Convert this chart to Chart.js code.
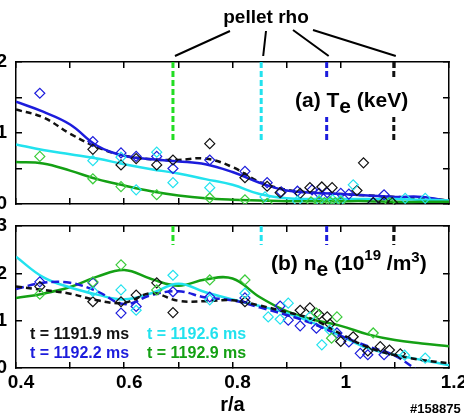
<!DOCTYPE html>
<html>
<head>
<meta charset="utf-8">
<script src="https://cdn.jsdelivr.net/npm/chart.js@4.4.0/dist/chart.umd.min.js"></script>
<style>
  html, body { margin: 0; padding: 0; background: #fff; }
  #wrap { position: relative; width: 464px; height: 414px; overflow: hidden; }
  #wrap canvas { position: absolute; left: 0; top: 0; }
</style>
</head>
<body>
<div id="wrap">
  <canvas id="teChart" width="464" height="414"></canvas>
  <canvas id="neChart" width="464" height="414"></canvas>
</div>
<script>
// r/a grid of the profile fits
const fitR = [0.40, 0.45, 0.50, 0.55, 0.60, 0.65, 0.70, 0.75, 0.80, 0.85, 0.90, 0.95, 1.00, 1.05, 1.10, 1.15, 1.20];

// (a) Te fits, keV
const teFit1191_9 = [1.33, 1.22, 0.99, 0.80, 0.68, 0.63, 0.62, 0.64, 0.52, 0.31, 0.20, 0.16, 0.14, 0.12, 0.10, 0.08, 0.05];
const teFit1192_2 = [1.44, 1.30, 1.12, 0.82, 0.68, 0.63, 0.60, 0.56, 0.45, 0.30, 0.19, 0.16, 0.14, 0.12, 0.10, 0.10, 0.04];
const teFit1192_6 = [0.84, 0.76, 0.70, 0.64, 0.56, 0.49, 0.43, 0.35, 0.27, 0.14, 0.08, 0.07, 0.07, 0.07, 0.07, 0.06, 0.05];
const teFit1192_9 = [0.59, 0.57, 0.47, 0.35, 0.26, 0.18, 0.12, 0.08, 0.06, 0.05, 0.04, 0.04, 0.04, 0.04, 0.03, 0.03, 0.03];

// (b) ne fits, 10^19 /m3
const neFit1191_9 = [1.72, 1.65, 1.57, 1.43, 1.38, 1.58, 1.42, 1.41, 1.43, 1.32, 1.18, 1.02, 0.72, 0.44, 0.27, 0.17, 0.10];
const neFit1192_2 = [1.67, 1.80, 1.80, 1.62, 1.35, 1.54, 1.62, 1.49, 1.43, 1.28, 1.12, 0.93, 0.68, 0.46, 0.26, -0.12, -0.50];
const neFit1192_6 = [2.35, 1.92, 1.70, 1.55, 1.45, 1.58, 1.78, 1.60, 1.45, 1.31, 1.16, 0.95, 0.68, 0.42, 0.28, 0.17, 0.06];
const neFit1192_9 = [1.48, 1.57, 1.71, 1.93, 2.07, 1.88, 1.74, 1.87, 1.89, 1.50, 1.20, 1.02, 0.89, 0.71, 0.59, 0.52, 0.46];

// (a) Te measurements
const teR1191_9 = [0.542, 0.594, 0.622, 0.66, 0.69, 0.758, 0.823, 0.864, 0.888, 0.925, 0.943, 0.965, 0.984, 1.03, 1.042, 1.06, 1.08, 1.095];
const teV1191_9 = [0.77, 0.55, 0.64, 0.55, 0.62, 0.85, 0.37, 0.25, 0.16, 0.15, 0.23, 0.24, 0.23, 0.19, 0.58, 0.02, 0.03, 0.02];
const teR1192_2 = [0.444, 0.542, 0.594, 0.622, 0.66, 0.69, 0.758, 0.823, 0.864, 0.89, 0.92, 0.947, 0.96, 0.975, 1.0, 1.015, 1.06, 1.08];
const teV1192_2 = [1.56, 0.88, 0.72, 0.67, 0.67, 0.50, 0.62, 0.46, 0.30, 0.17, 0.18, 0.20, 0.15, 0.16, 0.15, 0.14, 0.02, 0.13];
const teR1192_6 = [0.542, 0.594, 0.622, 0.66, 0.69, 0.758, 0.86, 0.92, 0.96, 0.985, 1.0, 1.023, 1.119, 1.156];
const teV1192_6 = [0.61, 0.66, 0.20, 0.73, 0.30, 0.23, 0.10, 0.04, 0.05, 0.06, 0.05, 0.27, 0.08, 0.08];
const teR1192_9 = [0.444, 0.542, 0.594, 0.66, 0.758, 0.823, 0.864, 0.945, 0.96, 0.97, 0.98, 0.99, 1.0, 1.09];
const teV1192_9 = [0.67, 0.355, 0.245, 0.13, 0.085, 0.06, 0.01, 0.03, 0.03, 0.02, 0.03, 0.02, 0.03, 0.02];

// (b) ne measurements
const neR1191_9 = [0.444, 0.542, 0.594, 0.622, 0.66, 0.69, 0.823, 0.925, 0.943, 0.96, 0.975, 0.98, 1.0, 1.023, 1.05, 1.073, 1.09, 1.11];
const neV1191_9 = [1.72, 1.40, 1.40, 1.54, 1.80, 1.17, 1.40, 1.22, 1.27, 1.13, 1.08, 0.93, 0.56, 0.66, 0.36, 0.45, 0.38, 0.30];
const neR1192_2 = [0.444, 0.542, 0.594, 0.622, 0.69, 0.758, 0.823, 0.888, 0.903, 0.925, 0.955, 0.993, 1.015, 1.036, 1.05, 1.08];
const neV1192_2 = [1.82, 1.80, 1.16, 1.30, 1.61, 1.50, 1.48, 1.31, 1.01, 0.89, 0.84, 0.74, 0.55, 0.31, 0.28, 0.28];
const neR1192_6 = [0.542, 0.594, 0.622, 0.69, 0.758, 0.823, 0.866, 0.888, 0.903, 0.943, 0.965, 0.98, 1.118, 1.156];
const neV1192_6 = [1.62, 1.65, 1.22, 1.96, 1.44, 1.58, 1.08, 1.03, 1.37, 1.08, 0.49, 0.80, 0.27, 0.21];
const neR1192_9 = [0.444, 0.542, 0.594, 0.66, 0.758, 0.823, 0.955, 0.983, 0.993, 1.06];
const neV1192_9 = [1.56, 1.82, 2.18, 1.65, 1.86, 1.86, 1.16, 0.63, 1.08, 0.74];

// pellet positions (green, cyan, blue, black)
const pelletRho = [0.690, 0.853, 0.974, 1.098];
const timeLabels = ['t = 1191.9 ms', 't = 1192.2 ms', 't = 1192.6 ms', 't = 1192.9 ms'];

const BLACK = '#111111', BLUE = '#1c1cdc', CYAN = '#22e2ee', GREEN = '#14a014';
const MARK_GREEN = '#3ccc3c', PELLET_GREEN = '#22dd22';
const FONT = '"Liberation Sans", Arial, sans-serif';

const pts = (xs, ys) => xs.map((x, i) => ({ x: x, y: ys[i] }));

function fitSet(ys, color, dash) {
    return {
        data: pts(fitR, ys), borderColor: color, borderWidth: 2.5,
        borderDash: dash || [], pointRadius: 0, tension: 0.4, fill: false
    };
}

function markSet(xs, ys, color) {
    return {
        data: pts(xs, ys), showLine: false, borderColor: color,
        backgroundColor: 'rgba(0,0,0,0)', pointStyle: 'rectRot',
        pointRadius: 5, pointBorderWidth: 1.2
    };
}

function pelletSet(r, y0, y1, color) {
    return {
        data: [{ x: r, y: y0 }, { x: r, y: y1 }], borderColor: color,
        borderWidth: 3, borderDash: [6, 3], pointRadius: 0
    };
}

function drawRich(ctx, x, y, segs, color) {
    ctx.fillStyle = color;
    ctx.textAlign = 'left';
    ctx.textBaseline = 'alphabetic';
    let cx = x;
    segs.forEach(s => {
        ctx.font = 'bold ' + s[1] + 'px ' + FONT;
        ctx.fillText(s[0], cx, y + s[2]);
        cx += ctx.measureText(s[0]).width;
    });
}

function notesPlugin(notes) {
    return {
        id: 'notes',
        afterDatasetsDraw(chart) {
            const ctx = chart.ctx;
            ctx.save();
            notes(ctx, chart.chartArea, chart.scales.x);
            ctx.restore();
        }
    };
}

// axis frame: every side carries a border and inward tick marks
const frameGrid = { display: true, drawOnChartArea: false, drawTicks: true, tickLength: -6, color: '#000', lineWidth: 1.5 };
const frameBorder = { display: true, color: '#000', width: 1.5 };
const tickFont = { family: FONT, size: 19, weight: 'bold' };

function yAxes(max, step) {
    const base = { min: 0, max: max, grid: frameGrid, border: frameBorder };
    return {
        y: Object.assign({}, base, {
            position: 'left',
            ticks: {
                stepSize: step, padding: 15, color: '#000', font: tickFont,
                callback: v => (Math.abs(v - Math.round(v)) < 1e-6 ? String(Math.round(v)) : '')
            },
            afterFit: s => { s.width = 16; }
        }),
        y2: Object.assign({}, base, {
            position: 'right',
            ticks: { stepSize: step, display: false },
            afterFit: s => { s.width = 0; }
        })
    };
}

function xAxes(showLabels) {
    const base = { type: 'linear', min: 0.4, max: 1.2, grid: frameGrid, border: frameBorder };
    return {
        x: Object.assign({}, base, {
            position: 'bottom',
            ticks: {
                display: showLabels, stepSize: 0.1, autoSkip: false, padding: 9,
                labelOffset: 5, maxRotation: 0, color: '#000', font: tickFont,
                callback: v => { const k = Math.round(v * 10); return k % 2 === 0 ? String(k / 10) : ''; }
            },
            title: {
                display: showLabels, text: 'r/a', color: '#000',
                font: { family: FONT, size: 20, weight: 'bold' },
                padding: { top: 0, bottom: -3 }
            },
            afterFit: s => {
                s.height = showLabels ? 46 : 0;
                // edge labels may run off the frame, as in the original
                s.paddingLeft = 0;
                s.paddingRight = 0;
            }
        }),
        x2: Object.assign({}, base, {
            position: 'top',
            ticks: { stepSize: 0.1, display: false },
            afterFit: s => { s.height = 0; }
        })
    };
}

function baseOptions(pad, yMax, yStep, showX) {
    return {
        responsive: false, animation: false, devicePixelRatio: 1,
        layout: { padding: pad },
        plugins: { legend: { display: false }, tooltip: { enabled: false } },
        scales: Object.assign(xAxes(showX), yAxes(yMax, yStep))
    };
}

// (a) electron temperature
new Chart(document.getElementById('teChart'), {
    type: 'line',
    data: {
        datasets: [
            pelletSet(pelletRho[0], 2, 0.88, PELLET_GREEN),
            pelletSet(pelletRho[1], 2, 0.88, CYAN),
            pelletSet(pelletRho[2], 2, 0.88, BLUE),
            pelletSet(pelletRho[3], 2, 0.88, BLACK),
            markSet(teR1192_9, teV1192_9, MARK_GREEN),
            markSet(teR1192_6, teV1192_6, CYAN),
            markSet(teR1191_9, teV1191_9, BLACK),
            markSet(teR1192_2, teV1192_2, BLUE),
            fitSet(teFit1192_9, GREEN),
            fitSet(teFit1192_6, CYAN),
            fitSet(teFit1192_2, BLUE),
            fitSet(teFit1191_9, BLACK, [6, 4])
        ]
    },
    options: baseOptions({ left: 0, right: 15, top: 62, bottom: 210 }, 2, 0.5, false),
    plugins: [notesPlugin(function (ctx, a, xs) {
        ctx.fillStyle = '#000';
        ctx.font = 'bold 19px ' + FONT;
        ctx.textAlign = 'center';
        ctx.textBaseline = 'alphabetic';
        ctx.fillText('pellet rho', 266, 23);
        const from = [[230, 31], [266, 31], [293, 30], [313, 30]];
        ctx.strokeStyle = '#000';
        ctx.lineWidth = 2;
        ctx.beginPath();
        pelletRho.forEach((r, i) => {
            ctx.moveTo(from[i][0], from[i][1]);
            ctx.lineTo(xs.getPixelForValue(r) + 2, a.top - 6);
        });
        ctx.stroke();
        ctx.fillStyle = '#fff';
        ctx.fillRect(291, 78, 124, 39);
        drawRich(ctx, 295, 107, [['(a) T', 21, 0], ['e', 21, 6], [' (keV)', 21, 0]], '#000');
    })]
});

// (b) electron density
new Chart(document.getElementById('neChart'), {
    type: 'line',
    data: {
        datasets: [
            pelletSet(pelletRho[0], 3, 2.6, PELLET_GREEN),
            pelletSet(pelletRho[1], 3, 2.6, CYAN),
            pelletSet(pelletRho[2], 3, 2.6, BLUE),
            pelletSet(pelletRho[3], 3, 2.6, BLACK),
            markSet(neR1192_9, neV1192_9, MARK_GREEN),
            markSet(neR1192_6, neV1192_6, CYAN),
            markSet(neR1191_9, neV1191_9, BLACK),
            markSet(neR1192_2, neV1192_2, BLUE),
            fitSet(neFit1191_9, BLACK, [6, 4]),
            fitSet(neFit1192_2, BLUE, [8, 4]),
            fitSet(neFit1192_6, CYAN),
            fitSet(neFit1192_9, GREEN)
        ]
    },
    options: baseOptions({ left: 0, right: 15, top: 226, bottom: 0 }, 3, 1, true),
    plugins: [notesPlugin(function (ctx) {
        drawRich(ctx, 271, 270, [['(b) n', 21, 0], ['e', 21, 6], [' (10', 21, 0],
            ['19', 15, -10], [' /m', 21, 0], ['3', 15, -8], [')', 21, 0]], '#000');
        const legendPos = [[30, 339, BLACK], [30, 358, BLUE], [147, 339, CYAN], [147, 358, GREEN]];
        timeLabels.forEach((t, i) => {
            drawRich(ctx, legendPos[i][0], legendPos[i][1], [[t, 16, 0]], legendPos[i][2]);
        });
        drawRich(ctx, 410, 413, [['#158875', 13, 0]], '#000');
    })]
});
</script>
</body>
</html>
